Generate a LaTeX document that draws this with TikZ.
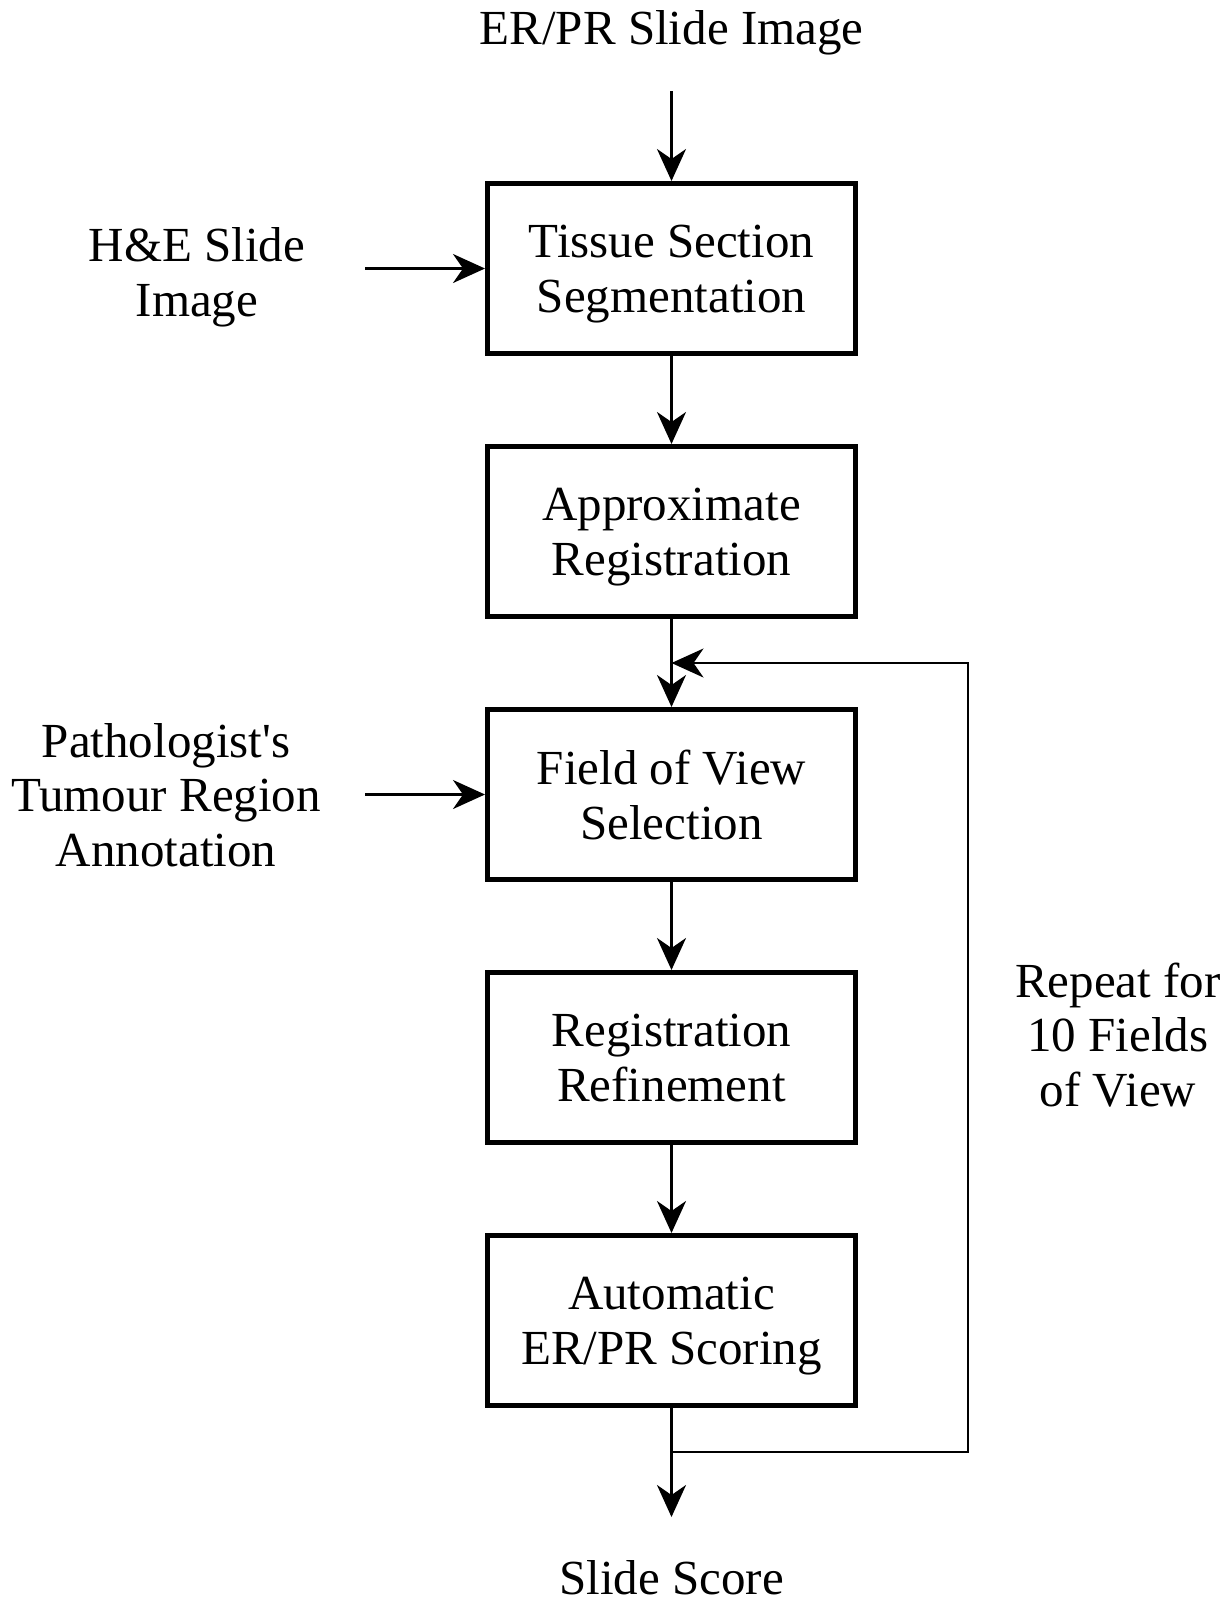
\documentclass[tikz,border=0pt]{standalone}
\usepackage{fontspec}
\setmainfont{Liberation Serif}
\usetikzlibrary{arrows.meta, positioning}

\begin{document}
\begin{tikzpicture}[
  x=0.5pt, y=-0.5pt,
  every node/.style={font=\fontsize{24.5}{27.3}\selectfont},
  box/.style={draw, line width=2.5pt, minimum width=184pt, minimum height=85pt,
              align=center, inner sep=0pt, text depth=0pt},
  lbl/.style={align=center, inner sep=0pt},
  arr/.style={-{Stealth[length=16pt, width=14.5pt, inset=5pt]}, line width=1.25pt},
  node distance=44pt,
]
\useasboundingbox (0,0) rectangle (1231,1603);
%% Pipeline
\node[box] (seg) at (671.5,268.5) {Tissue Section\\Segmentation};
\node[box, below=of seg] (approx) {Approximate\\Registration};
\node[box, below=of approx] (fov) {Field of View\\Selection};
\node[box, below=of fov] (refine) {Registration\\Refinement};
\node[box, below=of refine] (ars) {Automatic\\ER/PR Scoring};
%% Inputs and output
\node[lbl, above=63pt of seg] (erpr) {ER/PR Slide Image};
\node[lbl, text depth=0pt] (he) at (197,272) {H\&E Slide\\Image};
\node[lbl] (anno) at (166,795) {Pathologist\textquotesingle s\\Tumour Region\\Annotation};
\node[lbl, below=76pt of ars] (score) {Slide Score};
\node[lbl] (repeat) at (1118,1035) {Repeat for\\10 Fields\\of View};
%% Arrows
\coordinate[left=60pt of seg.west] (hein);
\coordinate[left=60pt of fov.west] (annoin);
\draw[arr, shorten <=18pt] (erpr) -- (seg);
\draw[arr] (hein) -- (seg.west);
\draw[arr] (seg) -- (approx);
\draw[arr] (approx) -- (fov);
\draw[arr] (annoin) -- (fov.west);
\draw[arr] (fov) -- (refine);
\draw[arr] (refine) -- (ars);
\draw[arr, shorten >=21.5pt] (ars) -- (score);
%% Loop back
\coordinate[below=22pt of ars.south] (loopsplit);
\coordinate[above=22pt of fov.north] (loopjoin);
\draw[arr] (loopsplit) -- ++(148.25pt,0) |- (loopjoin);
\end{tikzpicture}
\end{document}
